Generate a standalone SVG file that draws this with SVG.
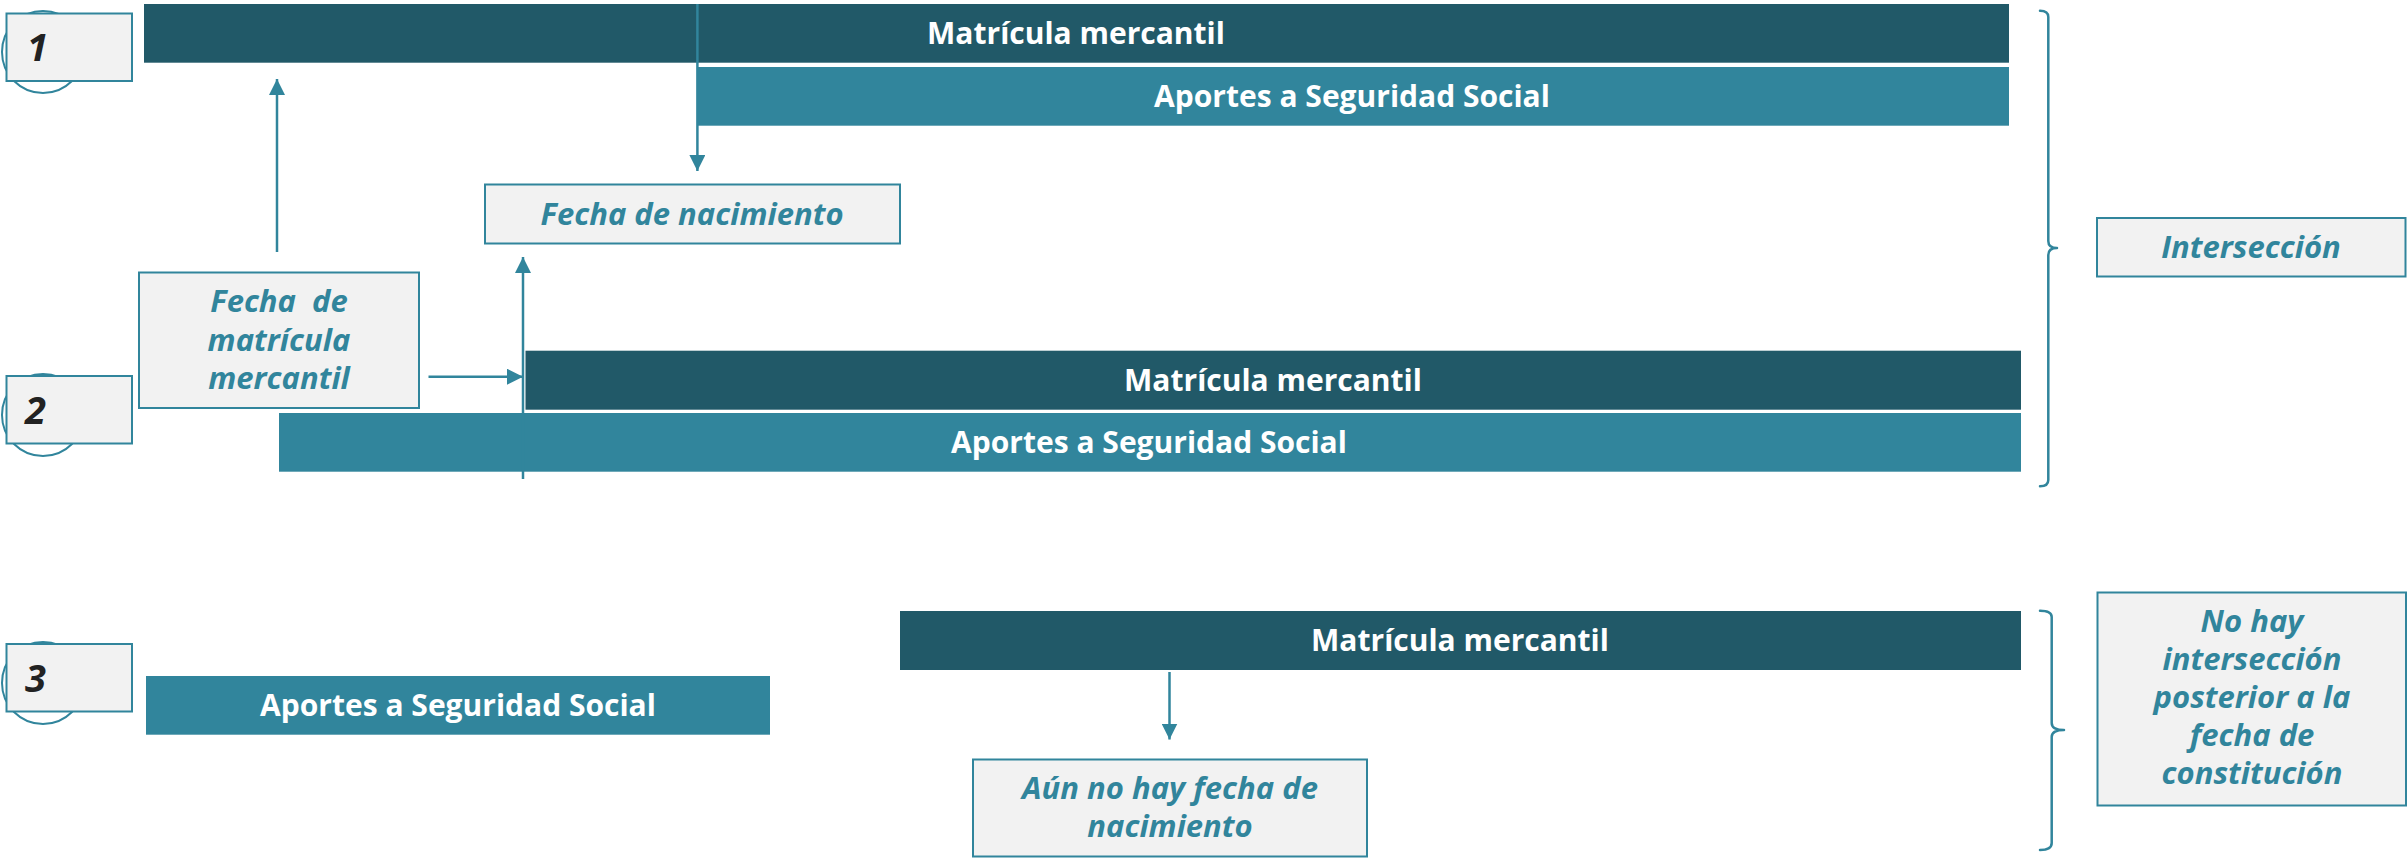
<svg xmlns="http://www.w3.org/2000/svg" width="2407" height="858" viewBox="0 0 2407 858">
<style>
.bg{fill:#FFFFFF}
.dark{fill:#215968}
.light{fill:#31859C}
.bartxt{font-family:"Open Sans","Noto Sans","Liberation Sans",sans-serif;font-weight:700;font-size:30px;fill:#FFFFFF;text-anchor:middle}
.box{fill:#F2F2F2;stroke:#31859C;stroke-width:2}
.lbl{font-family:"Open Sans","Noto Sans","Liberation Sans",sans-serif;font-weight:700;font-style:italic;font-size:31px;fill:#31859C;text-anchor:middle}
.num{font-family:"Open Sans","Noto Sans","Liberation Sans",sans-serif;font-weight:700;font-style:italic;font-size:38px;fill:#222222}
.ring{fill:none;stroke:#31859C;stroke-width:2}
.conn{fill:none;stroke:#31859C;stroke-width:2.5}
.brace{fill:none;stroke:#31859C;stroke-width:2.5;stroke-linecap:round;stroke-linejoin:round}
</style>
<defs>
<marker id="arr" markerUnits="userSpaceOnUse" markerWidth="16" markerHeight="16" viewBox="0 0 16 16" refX="16" refY="8" orient="auto">
<path d="M0,0 L16,8 L0,16 Z" fill="#31859C"/>
</marker>
</defs>
<rect class="bg" x="0" y="0" width="2407" height="858"/>

<g id="n1">
<circle class="ring" cx="43" cy="52" r="41"/>
<rect class="box" x="6.5" y="13.5" width="125.5" height="67.5"/>
<text class="num" x="27" y="61">1</text>
</g>
<g id="n2">
<circle class="ring" cx="43" cy="415" r="41"/>
<rect class="box" x="6.5" y="376" width="125.5" height="67.5"/>
<text class="num" x="25" y="424">2</text>
</g>
<g id="n3">
<circle class="ring" cx="43" cy="683" r="41"/>
<rect class="box" x="6.5" y="644" width="125.5" height="67.5"/>
<text class="num" x="25" y="692">3</text>
</g>

<g id="bar1-matricula">
<rect class="dark" x="144" y="4" width="1865" height="58.7"/>
<text class="bartxt" x="1076" y="44">Matrícula mercantil</text>
</g>
<g id="bar1-aportes">
<rect class="light" x="697" y="67" width="1312" height="58.7"/>
<text class="bartxt" x="1352" y="107">Aportes a Seguridad Social</text>
</g>
<g id="bar2-matricula">
<rect class="dark" x="525.5" y="350.7" width="1495.5" height="59"/>
<text class="bartxt" x="1273" y="391">Matrícula mercantil</text>
</g>
<g id="bar2-aportes">
<rect class="light" x="279" y="413" width="1742" height="58.7"/>
<text class="bartxt" x="1149" y="453">Aportes a Seguridad Social</text>
</g>
<g id="bar3-aportes">
<rect class="light" x="146" y="676" width="624" height="58.7"/>
<text class="bartxt" x="458" y="716">Aportes a Seguridad Social</text>
</g>
<g id="bar3-matricula">
<rect class="dark" x="900" y="611" width="1121" height="59"/>
<text class="bartxt" x="1460" y="651">Matrícula mercantil</text>
</g>

<g id="fecha-nacimiento">
<rect class="box" x="485" y="184.5" width="415" height="59"/>
<text class="lbl" x="692" y="225">Fecha de nacimiento</text>
</g>
<g id="fecha-matricula">
<rect class="box" x="139" y="272.5" width="280" height="135.5"/>
<text class="lbl" x="279" y="312" xml:space="preserve">Fecha  de</text>
<text class="lbl" x="279" y="351">matrícula</text>
<text class="lbl" x="279" y="389">mercantil</text>
</g>
<g id="aun-no-hay">
<rect class="box" x="973" y="759.5" width="394" height="97"/>
<text class="lbl" x="1170" y="799">Aún no hay fecha de</text>
<text class="lbl" x="1170" y="837">nacimiento</text>
</g>
<g id="interseccion">
<rect class="box" x="2097" y="218" width="308.5" height="58.5"/>
<text class="lbl" x="2251" y="258">Intersección</text>
</g>
<g id="no-hay">
<rect class="box" x="2097.5" y="592.5" width="308.5" height="213"/>
<text class="lbl" x="2252" y="632">No hay</text>
<text class="lbl" x="2252" y="670">intersección</text>
<text class="lbl" x="2252" y="708">posterior a la</text>
<text class="lbl" x="2252" y="746">fecha de</text>
<text class="lbl" x="2252" y="784">constitución</text>
</g>

<g id="connectors">
<line class="conn" x1="697.4" y1="4" x2="697.4" y2="171" marker-end="url(#arr)"/>
<line class="conn" x1="277" y1="252" x2="277" y2="79" marker-end="url(#arr)"/>
<line class="conn" x1="523" y1="479" x2="523" y2="257" marker-end="url(#arr)"/>
<line class="conn" x1="428.5" y1="376.7" x2="523" y2="376.7" marker-end="url(#arr)"/>
<line class="conn" x1="1169.5" y1="672" x2="1169.5" y2="739.5" marker-end="url(#arr)"/>
<path class="brace" d="M2040,10.7 Q2048.3,10.7 2048.3,17 V241 Q2048.3,248 2057,248 Q2048.3,248 2048.3,255 V480 Q2048.3,486.3 2040,486.3"/>
<path class="brace" d="M2040,610.7 Q2051.7,610.7 2051.7,617 V723 Q2051.7,730 2064,730 Q2051.7,730 2051.7,737 V843 Q2051.7,850 2040,850"/>
</g>
</svg>
